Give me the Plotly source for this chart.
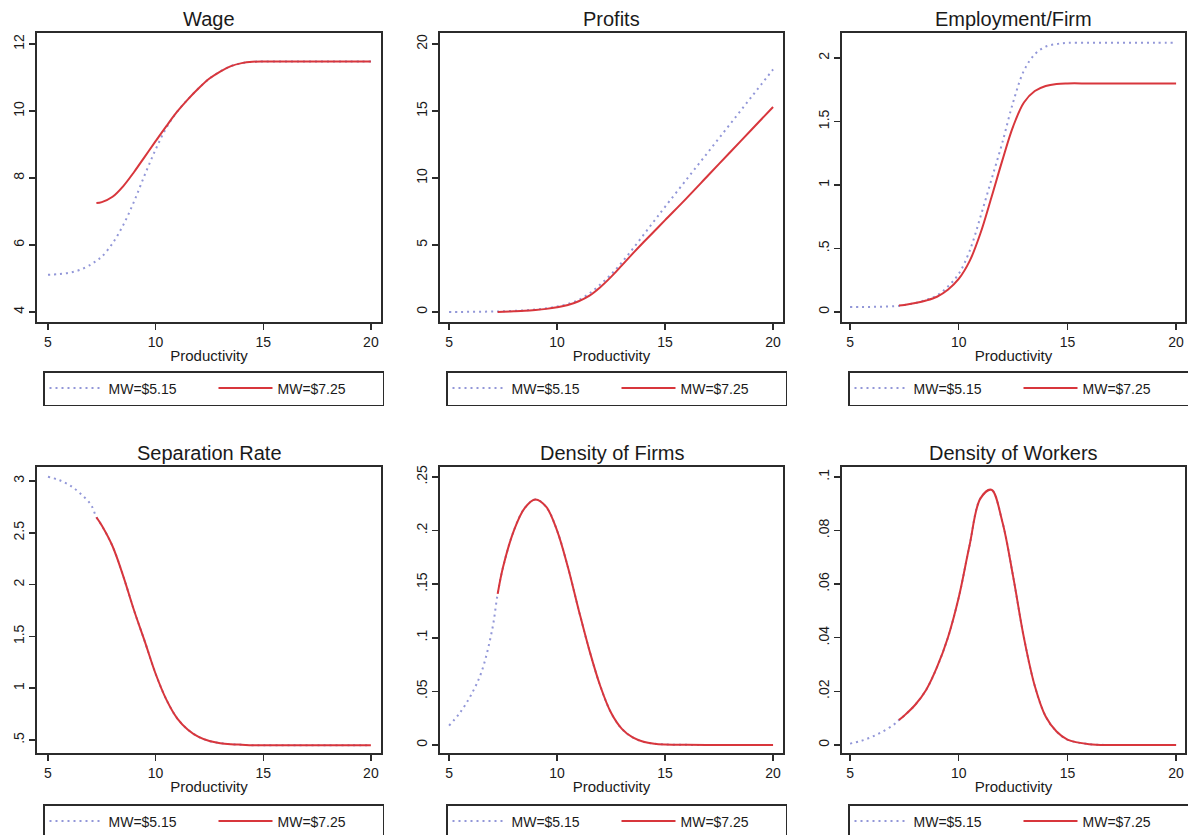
import plotly.graph_objects as go

W, H = 1188, 835

# ---------------- data ----------------
X_LOW = [5, 5.5, 6, 6.5, 7, 7.25, 7.5, 8, 8.5, 9, 9.5, 10, 10.5, 11, 11.5, 12,
         12.5, 13, 13.5, 14, 14.5, 15, 16, 17, 18, 19, 20]
X_HIGH = [7.25, 7.5, 8, 8.5, 9, 9.5, 10, 10.5, 11, 11.5, 12,
          12.5, 13, 13.5, 14, 14.5, 15, 16, 17, 18, 19, 20]

WAGE_LOW = [5.11, 5.13, 5.17, 5.26, 5.42, 5.53, 5.65, 6.05, 6.6, 7.3, 8.1, 8.85, 9.5,
            9.98, 10.35, 10.68, 10.97, 11.18, 11.34, 11.43, 11.47, 11.48, 11.48,
            11.48, 11.48, 11.48, 11.48]
WAGE_HIGH = [7.25, 7.28, 7.44, 7.76, 8.18, 8.64, 9.1, 9.55, 9.98, 10.35, 10.68,
             10.97, 11.18, 11.34, 11.43, 11.47, 11.48, 11.48, 11.48, 11.48, 11.48, 11.48]

PROFIT_LOW = [0.0, 0.0, 0.01, 0.02, 0.03, 0.04, 0.05, 0.08, 0.12, 0.18, 0.27, 0.4, 0.6,
              0.9, 1.38, 2.05, 2.8, 3.7, 4.7, 5.75, 6.8, 7.85, 9.9, 11.95, 14.0, 16.05, 18.1]
PROFIT_HIGH = [0.0, 0.02, 0.05, 0.09, 0.15, 0.23, 0.35, 0.52, 0.8, 1.22, 1.85,
               2.62, 3.48, 4.35, 5.2, 6.02, 6.85, 8.5, 10.2, 11.9, 13.6, 15.3]

EMP_LOW = [0.04, 0.04, 0.04, 0.042, 0.045, 0.048, 0.055, 0.07, 0.095, 0.13, 0.2, 0.3, 0.48,
           0.75, 1.04, 1.33, 1.65, 1.9, 2.03, 2.09, 2.11, 2.12, 2.12, 2.12, 2.12, 2.12, 2.12]
EMP_HIGH = [0.05, 0.055, 0.07, 0.09, 0.12, 0.175, 0.26, 0.4, 0.62, 0.9, 1.19,
            1.46, 1.65, 1.74, 1.78, 1.796, 1.8, 1.8, 1.8, 1.8, 1.8, 1.8]

SEP_LOW = [3.04, 3.01, 2.96, 2.88, 2.77, 2.65, 2.57, 2.37, 2.08, 1.75, 1.45, 1.14, 0.89,
           0.71, 0.6, 0.53, 0.49, 0.47, 0.46, 0.455, 0.45, 0.45, 0.45, 0.45, 0.45, 0.45, 0.45]
SEP_HIGH = [2.65, 2.57, 2.37, 2.08, 1.75, 1.45, 1.14, 0.89, 0.71, 0.6, 0.53,
            0.49, 0.47, 0.46, 0.455, 0.45, 0.45, 0.45, 0.45, 0.45, 0.45, 0.45]

FIRMS_LOW = [0.018, 0.03, 0.046, 0.068, 0.108, 0.141, 0.166, 0.2, 0.221, 0.229, 0.222,
             0.2, 0.166, 0.126, 0.088, 0.055, 0.03, 0.015, 0.007, 0.003, 0.0012, 0.0005,
             0.0001, 0.0, 0.0, 0.0, 0.0]
FIRMS_HIGH = [0.141, 0.166, 0.2, 0.221, 0.229, 0.222, 0.2, 0.166, 0.126, 0.088, 0.055,
              0.03, 0.015, 0.007, 0.003, 0.0012, 0.0005, 0.0001, 0.0, 0.0, 0.0, 0.0]

WORK_LOW = [0.0005, 0.0015, 0.003, 0.005, 0.0075, 0.0093, 0.011, 0.015, 0.0205, 0.029,
            0.04, 0.055, 0.0745, 0.092, 0.0952, 0.0835, 0.063, 0.04, 0.022, 0.0106, 0.005,
            0.002, 0.0003, 0.0, 0.0, 0.0, 0.0]
WORK_HIGH = [0.0093, 0.011, 0.015, 0.0205, 0.029, 0.04, 0.055, 0.0745, 0.092, 0.0952, 0.0835,
             0.063, 0.04, 0.022, 0.0106, 0.005, 0.002, 0.0003, 0.0, 0.0, 0.0, 0.0]

TITLES = ["Wage", "Profits", "Employment/Firm",
          "Separation Rate", "Density of Firms", "Density of Workers"]
SERIES_NAMES = ["MW=$5.15", "MW=$7.25"]
X_LABEL = "Productivity"
X_TICKS = [5, 10, 15, 20]
X_TICKTEXT = ["5", "10", "15", "20"]

Y_TICKS = [
    [4, 6, 8, 10, 12],
    [0, 5, 10, 15, 20],
    [0, 0.5, 1, 1.5, 2],
    [0.5, 1, 1.5, 2, 2.5, 3],
    [0, 0.05, 0.1, 0.15, 0.2, 0.25],
    [0, 0.02, 0.04, 0.06, 0.08, 0.1],
]
Y_TICKTEXT = [
    ["4", "6", "8", "10", "12"],
    ["0", "5", "10", "15", "20"],
    ["0", ".5", "1", "1.5", "2"],
    [".5", "1", "1.5", "2", "2.5", "3"],
    ["0", ".05", ".1", ".15", ".2", ".25"],
    ["0", ".02", ".04", ".06", ".08", ".1"],
]

LOWS = [WAGE_LOW, PROFIT_LOW, EMP_LOW, SEP_LOW, FIRMS_LOW, WORK_LOW]
HIGHS = [WAGE_HIGH, PROFIT_HIGH, EMP_HIGH, SEP_HIGH, FIRMS_HIGH, WORK_HIGH]

# ---------------- layout (pixel boxes) ----------------
BOXES = [(37, 33, 381, 322), (440, 33, 783, 322), (842, 33, 1185, 322),
         (37, 467, 381, 753), (440, 467, 783, 753), (842, 467, 1185, 753)]
X_RANGES = [[4.49, 20.47], [4.58, 20.46], [4.63, 20.41],
            [4.49, 20.47], [4.58, 20.46], [4.63, 20.41]]
Y_RANGES = [[3.70, 12.33], [-0.75, 20.82], [-0.079, 2.197],
            [0.375, 3.135], [-0.0075, 0.2593], [-0.003, 0.1037]]

FONT = "Liberation Sans, Arial, Helvetica, sans-serif"
TXT = "#1a1a1a"
AXC = "#2b2b2b"
BLUE = "#9297d8"
RED = "#d8363c"


def px(x):
    return x / W


def py(y):
    return 1 - y / H


fig = go.Figure()
layout = dict(
    width=W, height=H, autosize=False,
    margin=dict(l=0, r=0, t=0, b=0, autoexpand=False),
    paper_bgcolor="white", plot_bgcolor="white",
    font=dict(family=FONT, color=TXT, size=13),
    annotations=[],
)

for i in range(6):
    n = i + 1
    sfx = "" if n == 1 else str(n)
    lg = "legend" if n == 1 else "legend" + str(n)
    x0, y0, x1, y1 = BOXES[i]
    fig.add_trace(go.Scatter(
        x=X_LOW, y=LOWS[i], mode="lines", name=SERIES_NAMES[0],
        line=dict(color=BLUE, width=2, dash="2px,4px", shape="spline", smoothing=1.0),
        xaxis="x" + sfx, yaxis="y" + sfx, legend=lg, hoverinfo="skip"))
    fig.add_trace(go.Scatter(
        x=X_HIGH, y=HIGHS[i], mode="lines", name=SERIES_NAMES[1],
        line=dict(color=RED, width=2, shape="spline", smoothing=1.0),
        xaxis="x" + sfx, yaxis="y" + sfx, legend=lg, hoverinfo="skip"))

    layout["xaxis" + sfx] = dict(
        domain=[px(x0), px(x1)], anchor="y" + sfx, range=X_RANGES[i],
        tickmode="array", tickvals=X_TICKS, ticktext=X_TICKTEXT,
        ticks="outside", ticklen=6, tickwidth=1.5, tickcolor=AXC,
        showline=True, linecolor=AXC, linewidth=1.8, mirror=True,
        showgrid=False, zeroline=False, tickfont=dict(size=14), automargin=False,
        title=dict(text=X_LABEL, font=dict(size=15), standoff=2),
    )
    layout["yaxis" + sfx] = dict(
        domain=[py(y1), py(y0)], anchor="x" + sfx, range=Y_RANGES[i],
        tickmode="array", tickvals=Y_TICKS[i], ticktext=Y_TICKTEXT[i],
        ticks="outside", ticklen=6, tickwidth=1.5, tickcolor=AXC,
        showline=True, linecolor=AXC, linewidth=1.8, mirror=True, automargin=False,
        showgrid=False, zeroline=False, tickangle=-90, tickfont=dict(size=14),
    )
    layout["annotations"].append(dict(
        text=TITLES[i], x=px((x0 + x1) / 2), y=py(y0 - 14),
        xref="paper", yref="paper", xanchor="center", yanchor="middle",
        showarrow=False, font=dict(size=20, color=TXT)))
    ly = 371 if i < 3 else 804
    layout[lg] = dict(
        x=px(x0 + 6), y=py(ly), xanchor="left", yanchor="top",
        orientation="h", bordercolor=AXC, borderwidth=1.5, bgcolor="white",
        font=dict(size=14, color=TXT), itemwidth=54,
        entrywidth=100, entrywidthmode="pixels", traceorder="normal",
    )

fig.update_layout(**layout)
fig.write_html(
    "out.html",
    config={"responsive": False, "displayModeBar": False, "staticPlot": True},
    post_script="document.body.style.margin='0';document.body.style.overflow='hidden';",
)
